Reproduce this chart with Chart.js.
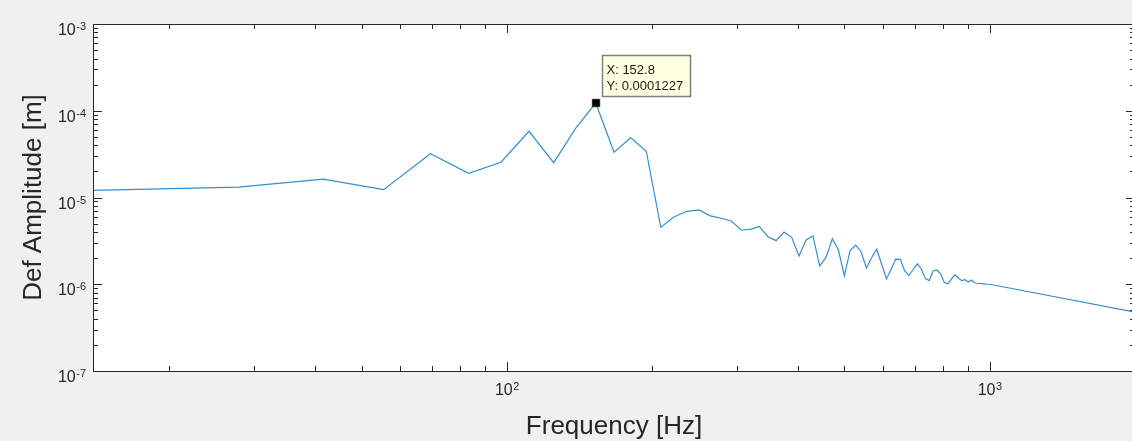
<!DOCTYPE html>
<html><head><meta charset="utf-8">
<script src="https://cdn.jsdelivr.net/npm/chart.js@4.4.1/dist/chart.umd.min.js"></script>
<style>
html,body{margin:0;padding:0;background:#f0f0f0;overflow:hidden;width:1132px;height:441px;}
#wrap{position:relative;width:1140px;height:441px;}
</style></head><body>
<div id="wrap"><canvas id="c" width="1140" height="441"></canvas></div>
<script>
// ---- data ----
const frequencies = [13.89, 27.78, 41.67, 55.56, 69.45, 83.35, 97.24, 111.13, 125.02, 138.91,
  152.80, 166.69, 180.58, 194.47, 208.36, 222.25, 236.15, 250.04, 263.93, 277.82,
  291.71, 305.60, 319.49, 333.38, 347.27, 361.16, 375.05, 388.95, 402.84, 416.73,
  430.62, 444.51, 458.40, 472.29, 486.18, 500.07, 513.96, 527.85, 541.75, 555.64,
  569.53, 583.42, 597.31, 611.20, 625.09, 638.98, 652.87, 666.76, 680.65, 694.55,
  708.44, 722.33, 736.22, 750.11, 764.00, 777.89, 791.78, 805.67, 819.56, 833.45,
  847.35, 861.24, 875.13, 889.02, 902.91, 916.80, 930.69, 944.58, 958.47, 972.36,
  986.25, 1000.15, 2000.29];
const amplitudes = [1.21e-5, 1.32e-5, 1.63e-5, 1.23e-5, 3.2e-5, 1.9e-5, 2.55e-5, 5.8e-5, 2.52e-5, 6.3e-5,
  1.227e-4, 3.32e-5, 4.89e-5, 3.40e-5, 4.54e-6, 6.0e-6, 6.93e-6, 7.18e-6, 6.15e-6, 5.76e-6,
  5.36e-6, 4.22e-6, 4.29e-6, 4.65e-6, 3.53e-6, 3.18e-6, 4.0e-6, 3.47e-6, 2.12e-6, 3.24e-6,
  3.6e-6, 1.62e-6, 2.05e-6, 3.35e-6, 2.48e-6, 1.25e-6, 2.44e-6, 2.83e-6, 2.37e-6, 1.53e-6,
  2.02e-6, 2.53e-6, 1.71e-6, 1.15e-6, 1.49e-6, 1.95e-6, 1.94e-6, 1.43e-6, 1.26e-6, 1.49e-6,
  1.72e-6, 1.49e-6, 1.16e-6, 1.10e-6, 1.43e-6, 1.46e-6, 1.31e-6, 1.05e-6, 1.01e-6, 1.15e-6,
  1.28e-6, 1.19e-6, 1.10e-6, 1.13e-6, 1.06e-6, 1.12e-6, 1.04e-6, 1.02e-6, 1.02e-6, 1.01e-6,
  1.0e-6, 1.0e-6, 4.77e-7];
const xTickValues = [100, 1000];
const xTickLabels = ['10^2', '10^3'];
const yTickValues = [1e-7, 1e-6, 1e-5, 1e-4, 1e-3];
const yTickLabels = ['10^-7', '10^-6', '10^-5', '10^-4', '10^-3'];
const xLabel = 'Frequency [Hz]';
const yLabel = 'Def Amplitude [m]';
const tipX = 152.8;
const tipY = 0.0001227;
const tipText = ['X: 152.8', 'Y: 0.0001227'];

const FONT = '"Liberation Sans", Arial, Helvetica, sans-serif';
const AX = '#262626';

const matlabAxes = {
  id: 'matlabAxes',
  beforeDraw(chart) {
    const ctx = chart.ctx, a = chart.chartArea;
    ctx.save();
    ctx.fillStyle = '#f0f0f0';
    ctx.fillRect(0, 0, chart.width, chart.height);
    ctx.fillStyle = '#ffffff';
    ctx.fillRect(a.left, a.top, a.right - a.left, a.bottom - a.top);
    ctx.restore();
  },
  afterDatasetsDraw(chart) {
    const ctx = chart.ctx, a = chart.chartArea;
    const xs = chart.scales.x, ys = chart.scales.y;
    ctx.save();
    ctx.strokeStyle = AX;
    ctx.lineWidth = 1;
    ctx.beginPath();
    const xmin = xs.min, xmax = xs.max;
    for (let e = Math.floor(Math.log10(xmin)); e <= Math.ceil(Math.log10(xmax)); e++) {
      for (let m = 1; m <= 9; m++) {
        const v = m * Math.pow(10, e);
        if (v <= xmin || v >= xmax) continue;
        const px = Math.round(xs.getPixelForValue(v)) + 0.5;
        const len = m === 1 ? 9 : 5;
        ctx.moveTo(px, a.bottom); ctx.lineTo(px, a.bottom - len);
        ctx.moveTo(px, a.top); ctx.lineTo(px, a.top + len);
      }
    }
    const ymin = ys.min, ymax = ys.max;
    for (let e = Math.floor(Math.log10(ymin)); e <= Math.ceil(Math.log10(ymax)); e++) {
      for (let m = 1; m <= 9; m++) {
        const v = m * Math.pow(10, e);
        if (v < ymin * 0.999 || v > ymax * 1.001) continue;
        const py = Math.round(ys.getPixelForValue(v)) + 0.5;
        const len = m === 1 ? 9 : 5;
        ctx.moveTo(a.left, py); ctx.lineTo(a.left + len, py);
        ctx.moveTo(a.right, py); ctx.lineTo(a.right - len, py);
      }
    }
    ctx.stroke();
    ctx.strokeRect(Math.round(a.left) + 0.5, Math.round(a.top) + 0.5,
      Math.round(a.right - a.left), Math.round(a.bottom - a.top));
    ctx.fillStyle = AX;
    ctx.textBaseline = 'alphabetic';
    const baseFont = '16px ' + FONT, expFont = '11px ' + FONT;
    yTickValues.forEach((v, i) => {
      const [b, ex] = yTickLabels[i].split('^');
      const py = ys.getPixelForValue(v);
      const right = a.left - 7;
      ctx.font = expFont; ctx.textAlign = 'right';
      const ew = ctx.measureText(ex).width;
      ctx.fillText(ex, right, py + 6);
      ctx.font = baseFont;
      ctx.fillText(b, right - ew - 0.5, py + 11);
    });
    xTickValues.forEach((v, i) => {
      const [b, ex] = xTickLabels[i].split('^');
      const px = xs.getPixelForValue(v);
      ctx.font = baseFont; const bw = ctx.measureText(b).width;
      ctx.font = expFont; const ew = ctx.measureText(ex).width;
      const start = px - (bw + ew) / 2;
      ctx.textAlign = 'left';
      ctx.font = baseFont; ctx.fillText(b, start, a.bottom + 24);
      ctx.font = expFont; ctx.fillText(ex, start + bw + 0.5, a.bottom + 19);
    });
    ctx.restore();
  },
  afterDraw(chart) {
    const ctx = chart.ctx;
    const px = chart.scales.x.getPixelForValue(tipX);
    const py = chart.scales.y.getPixelForValue(tipY);
    ctx.save();
    ctx.fillStyle = '#000000';
    ctx.fillRect(Math.round(px) - 4, Math.round(py) - 4, 8, 8);
    ctx.strokeStyle = '#8a8a60';
    ctx.lineWidth = 0.6;
    ctx.strokeRect(Math.round(px) - 4, Math.round(py) - 4, 8, 8);
    const bx = Math.round(px) + 6.5, by = Math.round(py) - 47.5, bw = 88, bh = 41;
    ctx.fillStyle = '#ffffe1';
    ctx.fillRect(bx, by, bw, bh);
    ctx.strokeStyle = '#7f7f7f';
    ctx.lineWidth = 1.5;
    ctx.strokeRect(bx, by, bw, bh);
    ctx.fillStyle = '#1a1a1a';
    ctx.font = '13px ' + FONT;
    ctx.textAlign = 'left'; ctx.textBaseline = 'alphabetic';
    ctx.fillText(tipText[0], bx + 4, by + 18.5);
    ctx.fillText(tipText[1], bx + 4, by + 34);
    ctx.restore();
  }
};

const ctx = document.getElementById('c').getContext('2d');
new Chart(ctx, {
  type: 'scatter',
  data: {
    datasets: [{
      data: frequencies.map((f, i) => ({x: f, y: amplitudes[i]})),
      showLine: true,
      borderColor: 'rgb(52,142,208)',
      borderWidth: 1.2,
      pointRadius: 0,
      tension: 0,
      fill: false
    }]
  },
  options: {
    responsive: false,
    animation: false,
    events: [],
    layout: {padding: {left: 0, right: 5, top: 24, bottom: 0}},
    plugins: {legend: {display: false}, tooltip: {enabled: false}},
    scales: {
      x: {
        type: 'logarithmic',
        min: frequencies[0],
        max: frequencies[frequencies.length - 1],
        bounds: 'data',
        grid: {display: false, drawTicks: false},
        border: {display: false},
        ticks: {display: false},
        title: {display: true, text: xLabel, color: AX,
          font: {family: FONT, size: 26, lineHeight: 1.0},
          padding: {top: 43, bottom: 1}}
      },
      y: {
        type: 'logarithmic',
        min: yTickValues[0],
        max: yTickValues[yTickValues.length - 1],
        bounds: 'data',
        grid: {display: false, drawTicks: false},
        border: {display: false},
        ticks: {display: false},
        title: {display: true, text: yLabel, color: AX,
          font: {family: FONT, size: 26, lineHeight: 1.0},
          padding: {top: 21, bottom: 46}}
      }
    }
  },
  plugins: [matlabAxes]
});
</script>
</body></html>
